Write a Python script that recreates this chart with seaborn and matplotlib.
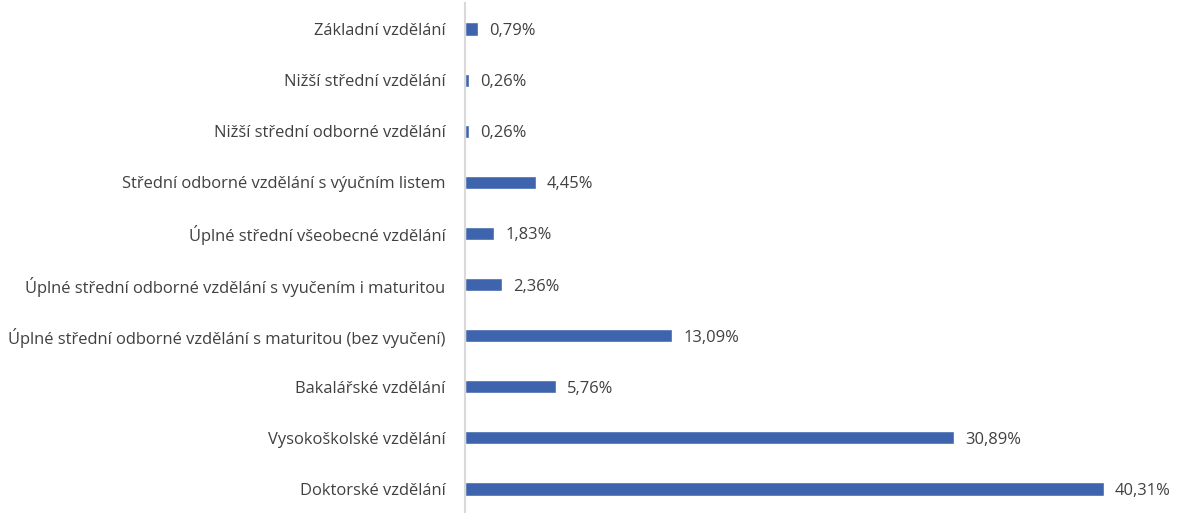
import matplotlib
matplotlib.use("Agg")
import matplotlib.pyplot as plt
import seaborn as sns
import pandas as pd

categories = [
    "Základní vzdělání",
    "Nižší střední vzdělání",
    "Nižší střední odborné vzdělání",
    "Střední odborné vzdělání s výučním listem",
    "Úplné střední všeobecné vzdělání",
    "Úplné střední odborné vzdělání s vyučením i maturitou",
    "Úplné střední odborné vzdělání s maturitou (bez vyučení)",
    "Bakalářské vzdělání",
    "Vysokoškolské vzdělání",
    "Doktorské vzdělání",
]
values = [0.79, 0.26, 0.26, 4.45, 1.83, 2.36, 13.09, 5.76, 30.89, 40.31]

df = pd.DataFrame({"kategorie": categories, "podil": values})

sns.set_style("white")
plt.rcParams["font.family"] = ["Open Sans", "DejaVu Sans"]
text_color = "#404040"

fig = plt.figure(figsize=(11.78, 5.13), dpi=100)
ax = fig.add_axes([465 / 1178, -1.5 / 513, 713 / 1178, 511 / 513])
sns.barplot(data=df, y="kategorie", x="podil", color="#3F64AE", width=0.26,
            saturation=1, ax=ax)

ax.set_xlim(0, 45)
ax.set_ylim(9.5, -0.5)
ax.set_xlabel("")
ax.set_ylabel("")
ax.set_xticks([])
for s in ["top", "right", "bottom"]:
    ax.spines[s].set_visible(False)
ax.spines["left"].set_color("#D9D9D9")
ax.spines["left"].set_linewidth(1.5)
ax.tick_params(axis="y", length=0, pad=14, labelsize=11.9, labelcolor=text_color)
for t in ax.get_yticklabels():
    t.set_va("center_baseline")

labels = [f"{v:.2f}%".replace(".", ",") for v in values]
texts = ax.bar_label(ax.containers[0], labels=labels, padding=8, fontsize=11.9,
                     color=text_color)
for t in texts:
    t.set_va("center_baseline")

fig.savefig("out.png", dpi=100)
